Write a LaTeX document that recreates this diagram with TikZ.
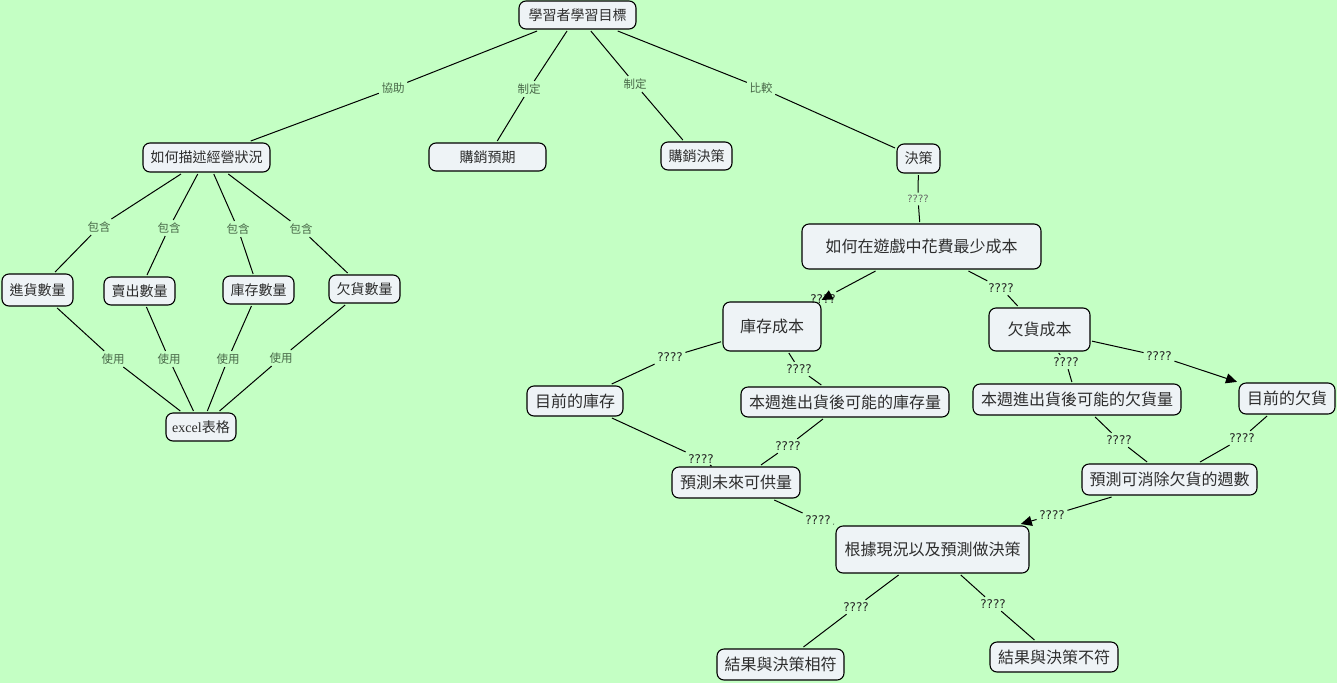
\documentclass[tikz,border=0pt]{standalone}
\usepackage{fontspec}
\newfontfamily\cjk{Noto Sans CJK TC}
\newfontfamily\qfont{DejaVu Sans}
\newfontfamily\lserif{Liberation Serif}
\usetikzlibrary{arrows.meta}
\definecolor{bg}{RGB}{196,255,196}
\definecolor{boxfill}{RGB}{238,243,246}
\definecolor{lblgreen}{RGB}{72,104,72}
\definecolor{txt}{RGB}{45,45,45}
\begin{document}
\begin{tikzpicture}[x=1pt,y=-1pt,
 box/.style={draw=black, line width=1.1pt, fill=boxfill, rounded corners=7pt, inner sep=0pt, outer sep=2pt, text=txt, font=\cjk\fontsize{14}{16}\selectfont},
 bigbox/.style={box, font=\cjk\fontsize{16}{18}\selectfont},
 lbl/.style={inner sep=2.5pt, text=lblgreen, font=\cjk\fontsize{11.5}{13}\selectfont},
 qlbl/.style={inner sep=2.5pt, text=black!85, font=\qfont\fontsize{12}{14}\selectfont},
 qgray/.style={inner sep=2.5pt, text=black!60, font=\qfont\fontsize{10}{12}\selectfont},
 conn/.style={line width=1pt, draw=black},
 arr/.style={conn, -{Triangle[length=11pt,width=10pt]}}
]
\fill[bg] (0,0) rectangle (1337,683);
\useasboundingbox (0,0) rectangle (1337,683);

% boxes
\node[box, minimum width=117pt, minimum height=28pt] (top) at (577.5,15) {學習者學習目標};
\node[box, minimum width=127pt, minimum height=29pt] (desc) at (206.5,157.5) {如何描述經營狀況};
\node[box, minimum width=117pt, minimum height=28pt] (yq) at (487.5,157) {購銷預期};
\node[box, minimum width=71pt, minimum height=28pt] (jc) at (696.5,156) {購銷決策};
\node[box, minimum width=43pt, minimum height=29pt] (dec) at (918.5,158.5) {決策};
\node[bigbox, minimum width=239pt, minimum height=45pt] (big) at (921.5,246.5) {如何在遊戲中花費最少成本};
\node[bigbox, minimum width=98pt, minimum height=49pt] (kc) at (772,326.5) {庫存成本};
\node[bigbox, minimum width=101pt, minimum height=43pt] (qc) at (1039.5,329.5) {欠貨成本};
\node[bigbox, minimum width=96pt, minimum height=30pt] (mk) at (575,401) {目前的庫存};
\node[bigbox, minimum width=208pt, minimum height=30pt] (bk) at (845,402) {本週進出貨後可能的庫存量};
\node[bigbox, minimum width=208pt, minimum height=31pt] (bq) at (1077,399.5) {本週進出貨後可能的欠貨量};
\node[bigbox, minimum width=96pt, minimum height=31pt] (mq) at (1287,398.5) {目前的欠貨};
\node[bigbox, minimum width=128pt, minimum height=31pt] (yg) at (736,482.5) {預測未來可供量};
\node[bigbox, minimum width=175pt, minimum height=31pt] (yx) at (1169.5,479.5) {預測可消除欠貨的週數};
\node[bigbox, minimum width=193pt, minimum height=47pt] (gj) at (932.5,549.5) {根據現況以及預測做決策};
\node[bigbox, minimum width=127pt, minimum height=31pt] (xf) at (780.5,664.5) {結果與決策相符};
\node[bigbox, minimum width=128pt, minimum height=30pt] (bf) at (1054,657) {結果與決策不符};
\node[box, minimum width=71pt, minimum height=32pt] (jh) at (37.5,290) {進貨數量};
\node[box, minimum width=71pt, minimum height=28pt] (mc) at (139.5,291) {賣出數量};
\node[box, minimum width=71pt, minimum height=28pt] (kk) at (258.5,290) {庫存數量};
\node[box, minimum width=71pt, minimum height=28pt] (qh) at (364.5,289) {欠貨數量};
\node[box, minimum width=70pt, minimum height=28pt] (ex) at (201,427) {{\lserif excel}表格};

% labels
\node[lbl] (l1) at (393,88) {協助};
\node[lbl] (l2) at (529,89) {制定};
\node[lbl] (l3) at (635,84) {制定};
\node[lbl] (l4) at (761,88) {比較};
\node[lbl] (b1) at (99,227) {包含};
\node[lbl] (b2) at (169,228) {包含};
\node[lbl] (b3) at (238,229) {包含};
\node[lbl] (b4) at (301,229) {包含};
\node[lbl] (u1) at (113,359) {使用};
\node[lbl] (u2) at (169,359) {使用};
\node[lbl] (u3) at (228,359) {使用};
\node[lbl] (u4) at (281,358) {使用};
\node[qgray] (q1) at (918,199) {????};
\node[qlbl] (q2) at (823,299) {????};
\node[qlbl] (q3) at (1001,288) {????};
\node[qlbl] (q4) at (670,357) {????};
\node[qlbl] (q5) at (799,369) {????};
\node[qlbl] (q6) at (701,459) {????};
\node[qlbl] (q7) at (788,446) {????};
\node[qlbl] (q8) at (1066,362) {????};
\node[qlbl] (q9) at (1159,356) {????};
\node[qlbl] (q10) at (1119,440) {????};
\node[qlbl] (q11) at (1242,438) {????};
\node[qlbl] (q12) at (818,520) {????};
\node[qlbl] (q13) at (1052,515) {????};
\node[qlbl] (q14) at (856,607) {????};
\node[qlbl] (q15) at (993,604) {????};

% connectors
\draw[conn] (top) -- (l1) -- (desc);
\draw[conn] (top) -- (l2) -- (yq);
\draw[conn] (top) -- (l3) -- (jc);
\draw[conn] (top) -- (l4) -- (dec);
\draw[conn] (desc) -- (b1) -- (jh);
\draw[conn] (desc) -- (b2) -- (mc);
\draw[conn] (desc) -- (b3) -- (kk);
\draw[conn] (desc) -- (b4) -- (qh);
\draw[conn] (jh) -- (u1) -- (ex);
\draw[conn] (mc) -- (u2) -- (ex);
\draw[conn] (kk) -- (u3) -- (ex);
\draw[conn] (qh) -- (u4) -- (ex);
\draw[conn] (dec) -- (q1) -- (big);
\draw[conn] (big) -- (q2);
\path (big) -- (kc) coordinate[pos=0.82] (kctail);
\draw[arr] (kctail) -- (kc);
\draw[conn] (big) -- (q3) -- (qc);
\draw[conn] (kc) -- (q4) -- (mk);
\draw[conn] (kc) -- (q5) -- (bk);
\draw[conn] (mk) -- (q6) -- (yg);
\draw[conn] (bk) -- (q7) -- (yg);
\draw[conn] (qc) -- (q8) -- (bq);
\draw[conn] (qc) -- (q9);
\draw[arr] (q9) -- (mq);
\draw[conn] (bq) -- (q10) -- (yx);
\draw[conn] (mq) -- (q11) -- (yx);
\draw[conn] (yg) -- (q12) -- (gj);
\draw[conn] (yx) -- (q13);
\draw[arr] (q13) -- (gj);
\draw[conn] (gj) -- (q14) -- (xf);
\draw[conn] (gj) -- (q15) -- (bf);
\end{tikzpicture}
\end{document}
